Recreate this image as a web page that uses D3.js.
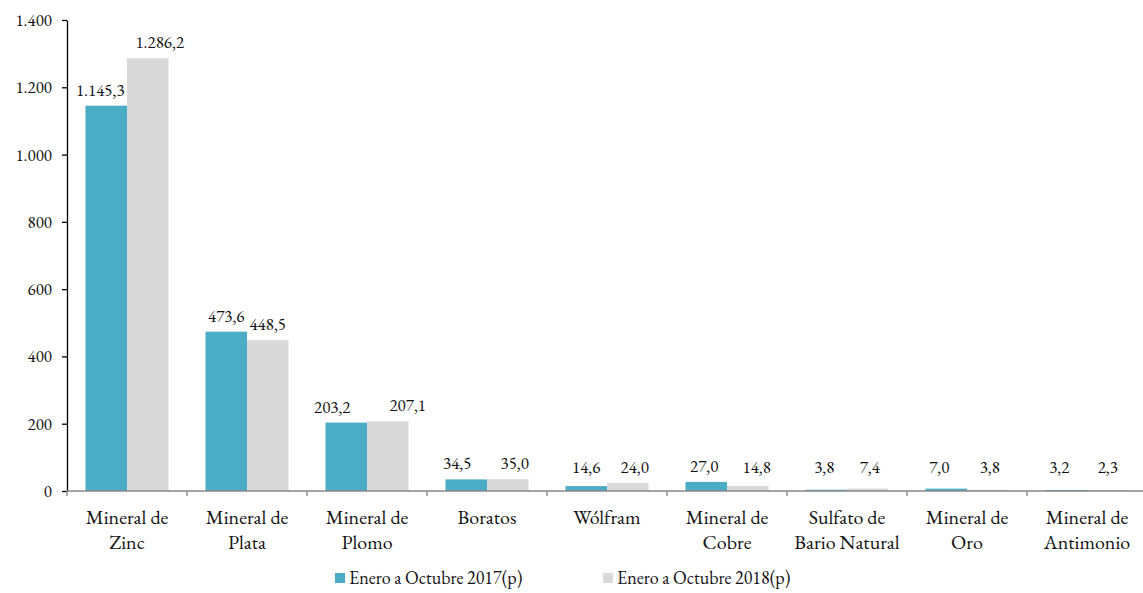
<!DOCTYPE html>
<html><head><meta charset="utf-8">
<script src="https://cdn.jsdelivr.net/npm/d3@7"></script>
<style>body{margin:0;background:#fff}svg{display:block}</style>
</head><body><svg id="c" width="1143" height="593"></svg>
<script>
const categories = [["Mineral de","Zinc"],["Mineral de","Plata"],["Mineral de","Plomo"],["Boratos"],["Wólfram"],["Mineral de","Cobre"],["Sulfato de","Bario Natural"],["Mineral de","Oro"],["Mineral de","Antimonio"]];
const series2017 = [1145.3, 473.6, 203.2, 34.5, 14.6, 27.0, 3.8, 7.0, 3.2];
const series2018 = [1286.2, 448.5, 207.1, 35.0, 24.0, 14.8, 7.4, 3.8, 2.3];
const seriesNames = ["Enero a Octubre 2017(p)", "Enero a Octubre 2018(p)"];
const yTicks = [0, 200, 400, 600, 800, 1000, 1200, 1400];
const colors = ["#4BACC6", "#D9D9D9"];
const FONT = "'EB Garamond', 'Liberation Serif', serif";
// horizontal nudges of the value labels (as placed in the original chart)
const labelNudge = [[-6, 12], [0, 0], [-14, 20], [-9, 7], [0, 7], [-2, 9], [-2, 2], [-7, 2], [-7, 0]];

const svg = d3.select("#c");
const pL = 67, pR = 1147, pT = 20, pB = 491;
const x = d3.scaleBand().domain(d3.range(categories.length)).range([pL, pR]).paddingInner(0).paddingOuter(0);
const inner = d3.scaleBand().domain([0,1]).range([0, x.bandwidth()]).paddingOuter(0.446).paddingInner(0);
const y = d3.scaleLinear().domain([0, 1400]).range([pB, pT]);
const fmt = v => {
  const s = v.toFixed(1).replace(".", ",");
  const [i, d] = s.split(",");
  return i.replace(/\B(?=(\d{3})+(?!\d))/g, ".") + "," + d;
};
const fmtTick = v => String(v).replace(/\B(?=(\d{3})+(?!\d))/g, ".");

const data = [series2017, series2018];
data.forEach((ser, si) => {
  svg.append("g").selectAll("rect").data(ser).join("rect")
    .attr("x", (d, i) => x(i) + inner(si))
    .attr("width", inner.bandwidth())
    .attr("y", d => y(d))
    .attr("height", d => y(0) - y(d))
    .attr("fill", colors[si]);
  svg.append("g").selectAll("text").data(ser).join("text")
    .attr("x", (d, i) => x(i) + inner(si) + inner.bandwidth() / 2 + labelNudge[i][si])
    .attr("y", d => Math.min(y(d) - 10, y(0) - 18))
    .attr("text-anchor", "middle")
    .style("font-family", FONT).style("font-size", "17px").attr("fill", "#111")
    .text(d => fmt(d));
});

// y axis
const ya = svg.append("g").attr("transform", `translate(${pL},0)`)
  .call(d3.axisLeft(y).tickValues(yTicks).tickFormat(fmtTick).tickSize(5).tickSizeOuter(0).tickPadding(10));
ya.select(".domain").attr("stroke", "#000").attr("stroke-width", 1.3);
ya.selectAll(".tick line").attr("stroke", "#000").attr("stroke-width", 1.3);
ya.selectAll("text").style("font-size", "17px").style("font-family", FONT).attr("fill", "#111");

// x axis
svg.append("line").attr("x1", pL).attr("x2", pR).attr("y1", y(0)).attr("y2", y(0)).attr("stroke", "#868686").attr("stroke-width", 1.3);
svg.append("g").selectAll("line").data(d3.range(categories.length + 1)).join("line")
  .attr("x1", i => i < categories.length ? x(i) : pR).attr("x2", i => i < categories.length ? x(i) : pR)
  .attr("y1", y(0)).attr("y2", y(0) + 5).attr("stroke", "#868686").attr("stroke-width", 1.3);

const cl = svg.append("g").selectAll("text").data(categories).join("text")
  .attr("x", (d, i) => x(i) + x.bandwidth() / 2)
  .attr("y", 524)
  .attr("text-anchor", "middle")
  .style("font-family", FONT).style("font-size", "20px").attr("fill", "#111");
cl.selectAll("tspan").data(d => d).join("tspan")
  .attr("x", function() { return d3.select(this.parentNode).attr("x"); })
  .attr("dy", (d, j) => j === 0 ? 0 : 25)
  .text(d => d);

// legend
const lg = [[335, 349], [603, 617]];
seriesNames.forEach((n, i) => {
  svg.append("rect").attr("x", lg[i][0]).attr("y", 573).attr("width", 10).attr("height", 10).attr("fill", colors[i]);
  svg.append("text").attr("x", lg[i][1]).attr("y", 584)
    .style("font-family", FONT).style("font-size", "18px").attr("fill", "#111").text(n);
});
</script></body></html>
